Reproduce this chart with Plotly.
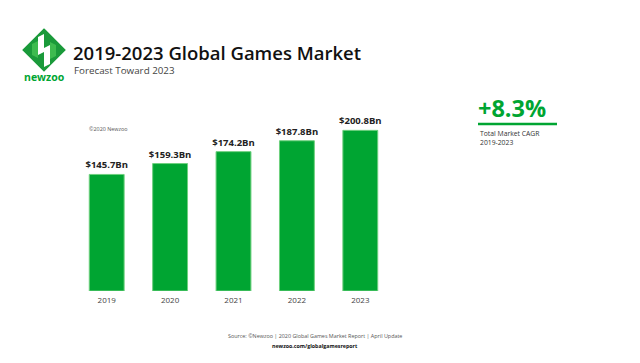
import plotly.graph_objects as go

years = ["2019", "2020", "2021", "2022", "2023"]
revenue_bn = [145.7, 159.3, 174.2, 187.8, 200.8]
value_labels = ["$145.7Bn", "$159.3Bn", "$174.2Bn", "$187.8Bn", "$200.8Bn"]

GREEN = "#00a532"

# page body has an 8px margin -> shift everything
OFF = 8
W, H = 640 - OFF, 363 - OFF
L, R, T, B = 75 - OFF, 248, 115 - OFF, 72  # plot area in window px: x 75..392, y 115..291
PW = W - L - R
PH = H - T - B


def px_x(v):
    return (v - OFF - L) / PW


def px_y(v):
    return ((H - B) - (v - OFF)) / PH


fig = go.Figure()
fig.add_trace(go.Bar(
    x=years, y=revenue_bn,
    text=value_labels, textposition="outside", cliponaxis=False, constraintext="none",
    textfont=dict(family="Open Sans", size=9.5, color="#222222", weight=700),
    marker=dict(color=GREEN, line=dict(color="#6fd07f", width=1)),
    hoverinfo="skip",
))

fig.update_layout(
    width=W, height=H,
    margin=dict(l=L, r=R, t=T, b=B),
    paper_bgcolor="white", plot_bgcolor="white",
    bargap=0.45,
    showlegend=False,
    font=dict(family="Open Sans", color="#333333"),
    xaxis=dict(showline=False, showgrid=False, zeroline=False, ticks="",
               tickfont=dict(size=8, color="#444444"), ticklabelstandoff=3),
    yaxis=dict(range=[0, 220], visible=False),
)


def note(x, y, text, size, color, xanchor="left", weight=None, align="left"):
    f = dict(family="Open Sans", size=size, color=color)
    if weight:
        f["weight"] = weight
    fig.add_annotation(x=px_x(x), y=px_y(y), xref="paper", yref="paper", text=text,
                       showarrow=False, xanchor=xanchor, yanchor="middle", align=align, font=f)


note(71, 52, "2019-2023 Global Games Market", 18.5, "#111111", weight=600)
note(72, 70, "Forecast Toward 2023", 9.8, "#444444")
note(44, 77, "<b>newzoo</b>", 10.5, GREEN, xanchor="center")
note(87, 129, "©2020 Newzoo", 5.4, "#555555")
note(476, 108, "<b>+8.3%</b>", 23.5, GREEN)
note(478, 138, "Total Market CAGR<br>2019-2023", 6.8, "#333333")
note(315, 336, "Source: ©Newzoo | 2020 Global Games Market Report | April Update", 5.4, "#555555",
     xanchor="center")
note(315, 346, "<b>newzoo.com/globalgamesreport</b>", 5.3, "#111111", xanchor="center")

# Underline under CAGR
fig.add_shape(type="line", xref="paper", yref="paper",
              x0=px_x(478), x1=px_x(557), y0=px_y(124), y1=px_y(124),
              line=dict(color=GREEN, width=2.5))

# Logo: rounded diamond
cx, cy, r = 44, 50, 19
logo = (f"M {px_x(cx)} {px_y(cy - r)} L {px_x(cx + r)} {px_y(cy)} "
        f"L {px_x(cx)} {px_y(cy + r)} L {px_x(cx - r)} {px_y(cy)} Z")
fig.add_shape(type="path", xref="paper", yref="paper", path=logo,
              fillcolor="#1a9a3a", line=dict(color="#1a9a3a", width=4))
shades = [
    [(32, 44), (38, 41), (38, 58), (32, 55)],
    [(50, 42), (56, 45), (56, 56), (50, 59)],
]
for s in shades:
    p = "M " + " L ".join(f"{px_x(x)} {px_y(y)}" for x, y in s) + " Z"
    fig.add_shape(type="path", xref="paper", yref="paper", path=p,
                  fillcolor="#3dbb4f", line=dict(width=0))
stripes = [
    [(38, 37), (44, 34), (44, 52), (38, 55)],
    [(44, 48), (50, 45), (50, 64), (44, 67)],
]
for s in stripes:
    p = "M " + " L ".join(f"{px_x(x)} {px_y(y)}" for x, y in s) + " Z"
    fig.add_shape(type="path", xref="paper", yref="paper", path=p,
                  fillcolor="white", line=dict(width=0))

fig.write_html("out.html")
